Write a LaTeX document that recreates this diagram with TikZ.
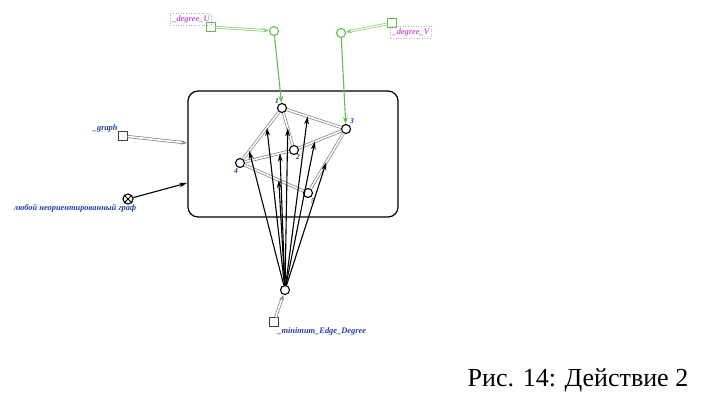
\documentclass[tikz,border=0pt]{standalone}
\usepackage{fontspec}
\setmainfont{Liberation Serif}
\usepackage{xcolor}
\usepackage{tikz}
\usetikzlibrary{arrows.meta, calc}

\definecolor{lblblue}{RGB}{40,60,170}
\definecolor{dgreen}{RGB}{100,190,80}
\definecolor{lblpink}{RGB}{200,90,220}

\begin{document}
\begin{tikzpicture}[x=0.5pt, y=-0.5pt,
    vert/.style={circle, draw=black, line width=0.55pt, fill=white, inner sep=0pt, minimum size=4.5pt},
    gvert/.style={vert, draw=dgreen},
    port/.style={rectangle, draw=black!75, line width=0.55pt, fill=white, inner sep=0pt, minimum size=4.2pt},
    gport/.style={port, draw=dgreen},
    num/.style={font=\fontsize{3.8}{4}\selectfont\itshape\bfseries, text=lblblue, inner sep=0pt},
    lbl/.style={font=\fontsize{4.2}{5}\selectfont\itshape\bfseries, text=lblblue, inner sep=0pt},
    tag/.style={draw=gray!60, densely dotted, line width=0.3pt, font=\fontsize{4.2}{5}\selectfont\itshape\bfseries, text=lblpink, inner sep=1pt},
    link/.style={draw=gray, double=white, double distance=0.8pt, line width=0.35pt},
    glink/.style={draw=dgreen!80, double=white, double distance=0.6pt, line width=0.35pt, -{Stealth[length=3pt,width=2.2pt]}},
    gptr/.style={draw=dgreen, line width=0.55pt, -{Stealth[length=3.5pt,width=2.4pt]}},
    ptr/.style={-{Stealth[length=4pt,width=2.4pt]}, line width=0.55pt}
]
\useasboundingbox (0,0) rectangle (710,412);

% frame
\draw[line width=0.6pt, rounded corners=5pt] (188,91) rectangle (398,217);
\coordinate (fin1) at (187,143);
\coordinate (fin2) at (187,183);

% graph vertices
\node[vert] (n1) at (282,108) {};
\node[vert] (n2) at (294,150) {};
\node[vert] (n3) at (346,129) {};
\node[vert] (n4) at (240,163) {};
\node[vert] (n5) at (308,193) {};
\node[num] at (277,101) {1};
\node[num] at (298,157) {2};
\node[num] at (352,121) {3};
\node[num] at (236,171) {4};
\node[num] at (313,201) {5};

% edges
\draw[link] (n1) -- (n3);
\draw[link] (n1) -- (n4);
\draw[link] (n1) -- (n2);
\draw[link] (n2) -- (n3);
\draw[link] (n4) -- (n2);
\draw[link] (n4) -- (n5);
\draw[link] (n3) -- (n5);

% arrow targets on edges
\coordinate (a1) at ($(n1)!0.36!(n4)$);
\coordinate (a2) at ($(n1)!0.48!(n2)$);
\coordinate (a3) at ($(n1)!0.40!(n3)$);
\coordinate (a4) at ($(n2)!0.40!(n3)$);
\coordinate (a5) at ($(n1)!0.78!(n4)$);
\coordinate (a6) at ($(n4)!0.74!(n2)$);
\coordinate (a7) at ($(n4)!0.57!(n5)$);
\coordinate (a8) at ($(n3)!0.52!(n5)$);

% degree U / V
\node[gvert] (u) at (274,31) {};
\node[gport] (pu) at (211,27) {};
\node[tag] (tu) at (191,19) {\_degree\_U};
\node[gvert] (v) at (341,33) {};
\node[gport] (pv) at (392,23) {};
\node[tag] (tv) at (411,32) {\_degree\_V};
\draw[glink] (pu) -- (u);
\draw[glink] (pv) -- (v);
\draw[gptr] (u) -- (n1);
\draw[gptr] (v) -- (n3);

% graph input
\node[port] (pg) at (123,136) {};
\node[lbl, anchor=base east] at (118,130) {\_graph};
\draw[link, -{Stealth[length=3pt,width=2.2pt]}] (pg) -- (fin1);

\node[vert, minimum size=5pt] (any) at (128,199) {};
\draw[line width=0.5pt] (any.north east) -- (any.south west) (any.north west) -- (any.south east);
\node[lbl] at (75,208) {любой неориентированный граф};
\draw[ptr] (any) -- (fin2);

% minimum edge degree
\node[vert] (nb) at (285,290) {};
\node[port] (pm) at (274,322) {};
\node[lbl, anchor=west] at (277,331) {\_minimum\_Edge\_Degree};
\draw[link, -{Stealth[length=3pt,width=2.2pt]}] (pm) -- (nb);
\foreach \e in {a1,a2,a3,a4,a5,a6,a7,a8}
    \draw[ptr] (nb) -- (\e);

% caption
\node[font=\fontsize{13}{15}\selectfont] (cap) at (578,380) {Рис. 14: Действие 2};
\end{tikzpicture}
\end{document}
